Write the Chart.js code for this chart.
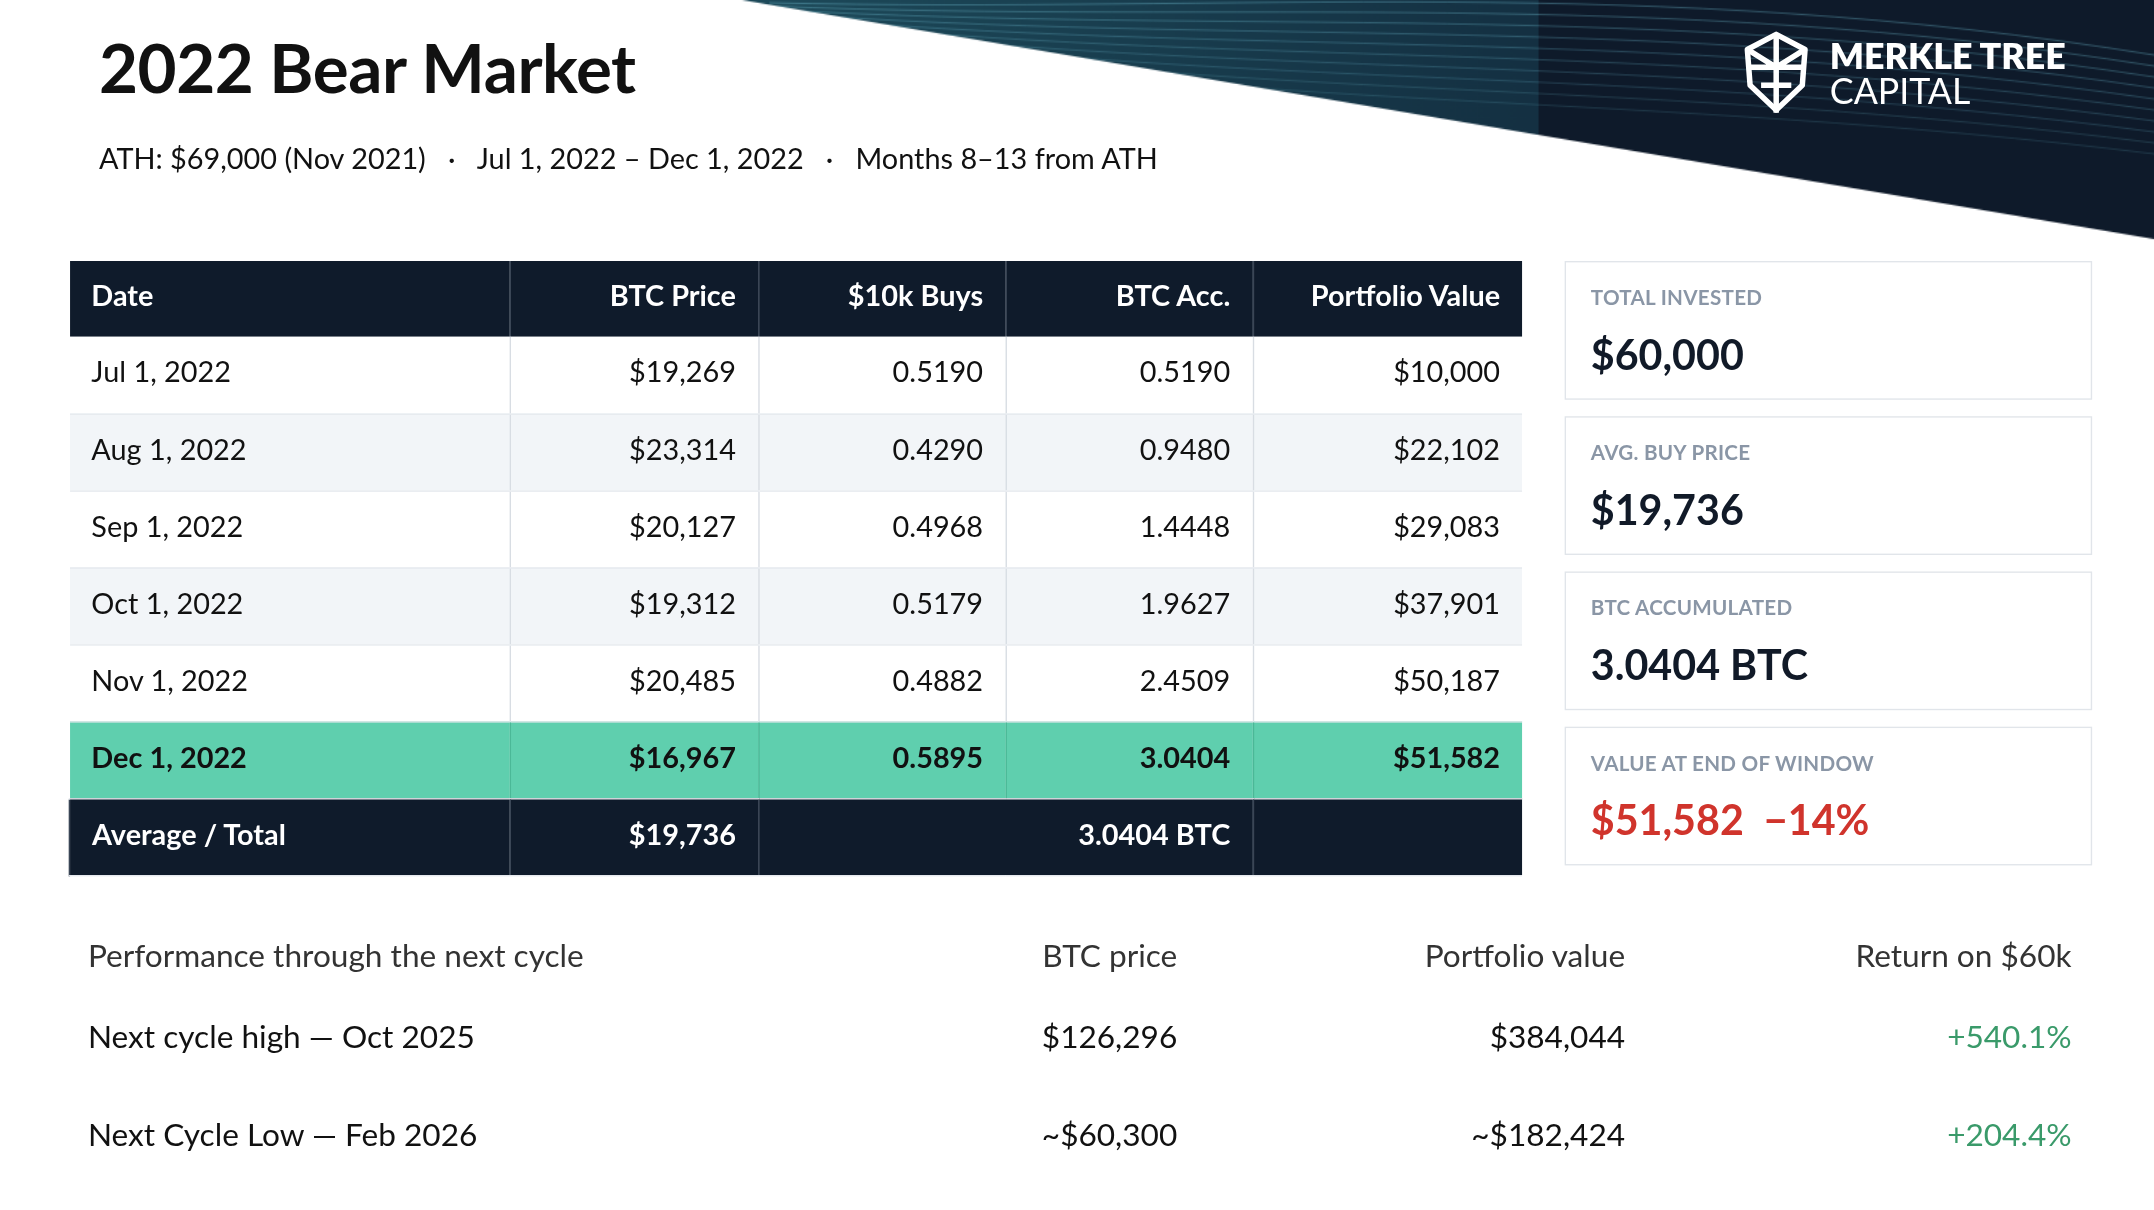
<!DOCTYPE html>
<html><head><meta charset="utf-8">
<script src="https://cdn.jsdelivr.net/npm/chart.js@4/dist/chart.umd.min.js"></script>
<style>
  html, body { margin: 0; padding: 0; background: #fff; overflow: hidden; }
  #page { position: absolute; left: 0; top: 0; width: 1568px; height: 881px; transform: scale(1.3737); transform-origin: 0 0; font-family: Lato, "Open Sans", sans-serif; color: #111; }
  #banner { position: absolute; left: 0; top: 0; width: 1568px; height: 181px; }
  h1 { position: absolute; left: 72px; top: 20px; margin: 0; font-size: 49px; font-weight: 700; letter-spacing: -0.3px; }
  .sub { position: absolute; left: 72px; top: 102px; font-size: 21px; }
  .logo { position: absolute; left: 1268px; top: 22px; color: #fff; display: flex; align-items: center; }
  .logo .t { margin-left: 14px; font-size: 26px; line-height: 26px; }
  table { position: absolute; left: 50px; top: 190px; width: 1058px; border-collapse: collapse; font-size: 21px; }
  td, th { height: 56px; padding: 0 16px 6px 16px; text-align: right; border-left: 1px solid #d8dde3; box-sizing: border-box; }
  th { background: #0f1b2b; color: #fff; font-weight: 700; border-left: 1px solid #3a4656; height: 55px; }
  td:first-child, th:first-child { text-align: left; border-left: none; }
  tr.alt td { background: #f2f5f8; }
  tbody td { border-bottom: 1px solid #e5e9ee; }
  tr.hl td { background: #5fcfae; font-weight: 700; border-left-color: #4bb897; }
  tr.tot td { background: #0f1b2b; color: #fff; font-weight: 700; border-left: 1px solid #3a4656; }
  .card { position: absolute; left: 1139px; width: 384px; height: 101px; border: 1px solid #e1e5ea; box-sizing: border-box; }
  .card .l { position: absolute; left: 18px; top: 16px; font-size: 15px; font-weight: 700; color: #8a96a6; letter-spacing: 0.2px; }
  .card .v { position: absolute; left: 18px; top: 48px; font-size: 30px; font-weight: 700; color: #111a28; }
  .perf { position: absolute; font-size: 23px; }
</style></head>
<body>
<div id="page">
  <canvas id="banner" width="1568" height="181"></canvas>
  <h1>2022 Bear Market</h1>
  <div class="sub">ATH: $69,000 (Nov 2021) &nbsp;&nbsp;·&nbsp;&nbsp; Jul 1, 2022 – Dec 1, 2022 &nbsp;&nbsp;·&nbsp;&nbsp; Months 8–13 from ATH</div>
  <div class="logo">
    <svg width="50" height="62" viewBox="0 0 50 62" fill="none" stroke="#fff" stroke-width="4" stroke-linejoin="round">
      <path d="M25 3 L46 14 L44 40 L25 58 L6 40 L4 14 Z"/><path d="M25 3 L25 60 M6 27 L44 27 M4 14 L25 27 L46 14 M14 40 L36 40"/>
    </svg>
    <div class="t"><b style="font-weight:800">MERKLE TREE</b><br>CAPITAL</div>
  </div>
  <table id="tbl"></table>
  <div id="cards"></div>
  <div id="perf"></div>
</div>
<script>
const headers = ['Date', 'BTC Price', '$10k Buys', 'BTC Acc.', 'Portfolio Value']
const dates = ['Jul 1, 2022', 'Aug 1, 2022', 'Sep 1, 2022', 'Oct 1, 2022', 'Nov 1, 2022', 'Dec 1, 2022']
const prices = ['$19,269', '$23,314', '$20,127', '$19,312', '$20,485', '$16,967']
const buys = ['0.5190', '0.4290', '0.4968', '0.5179', '0.4882', '0.5895']
const accumulated = ['0.5190', '0.9480', '1.4448', '1.9627', '2.4509', '3.0404']
const portfolio = ['$10,000', '$22,102', '$29,083', '$37,901', '$50,187', '$51,582']
const totals = ['Average / Total', '$19,736', '', '3.0404 BTC', '']
const cardLabels = ['TOTAL INVESTED', 'AVG. BUY PRICE', 'BTC ACCUMULATED', 'VALUE AT END OF WINDOW']
const cardValues = ['$60,000', '$19,736', '3.0404 BTC', '$51,582 &nbsp;−14%']
const perfHeaders = ['Performance through the next cycle', 'BTC price', 'Portfolio value', 'Return on $60k']
const perfNames = ['Next cycle high — Oct 2025', 'Next Cycle Low — Feb 2026']
const perfPrices = ['$126,296', '~$60,300']
const perfValues = ['$384,044', '~$182,424']
const perfReturns = ['+540.1%', '+204.4%']

let html = '<thead><tr>' + headers.map((h, i) => `<th style="width:${[321, 181, 180, 180, 196][i]}px">${h}</th>`).join('') + '</tr></thead><tbody>'
dates.forEach((d, i) => {
  const cls = i === dates.length - 1 ? 'hl' : (i % 2 ? 'alt' : '')
  html += `<tr class="${cls}"><td>${d}</td><td>${prices[i]}</td><td>${buys[i]}</td><td>${accumulated[i]}</td><td>${portfolio[i]}</td></tr>`
})
html += `<tr class="tot"><td>${totals[0]}</td><td>${totals[1]}</td><td colspan="2">${totals[3]}</td><td></td></tr></tbody>`
document.getElementById('tbl').innerHTML = html

document.getElementById('cards').innerHTML = cardLabels.map((l, i) =>
  `<div class="card" style="top:${190 + i * 113}px"><div class="l">${l}</div><div class="v" style="${i === 3 ? 'color:#d0342c' : ''}">${cardValues[i]}</div></div>`).join('')

const colX = [64, 857, 1183, 1508]
let p = ''
const row = (cells, y, style) => cells.forEach((c, i) => {
  p += i === 0 ? `<div class="perf" style="left:${colX[0]}px;top:${y}px;${style}">${c}</div>`
    : `<div class="perf" style="right:${1568 - colX[i]}px;top:${y}px;${style}${i === 3 && style === '' ? 'color:#3a9a6a;' : ''}">${c}</div>`
})
row(perfHeaders, 681, 'color:#333;')
perfNames.forEach((n, i) => row([n, perfPrices[i], perfValues[i], perfReturns[i]], 740 + i * 71, ''))
document.getElementById('perf').innerHTML = p

// banner: dark wedge with wave lines, drawn on a chart canvas
const waveOffsets = [0, 8, 16, 24, 32, 40, 48, 56, 64, 72]
new Chart(document.getElementById('banner'), {
  type: 'scatter',
  data: { datasets: [] },
  options: {
    responsive: false, animation: false, events: [],
    layout: { padding: 0 },
    scales: { x: { display: false, min: 0, max: 1568 }, y: { display: false, min: 0, max: 181 } },
    plugins: { legend: { display: false }, tooltip: { enabled: false } }
  },
  plugins: [{
    beforeDraw: (chart) => {
      const ctx = chart.ctx
      ctx.save()
      ctx.beginPath()
      ctx.moveTo(540, 0); ctx.lineTo(1568, 0); ctx.lineTo(1568, 174); ctx.closePath()
      ctx.clip()
      const g = ctx.createLinearGradient(540, 0, 1120, 0)
      g.addColorStop(0, '#1d4a5a'); g.addColorStop(1, '#143042')
      ctx.fillStyle = g
      ctx.fillRect(540, 0, 580, 181)
      ctx.fillStyle = '#0e1a2a'
      ctx.fillRect(1120, 0, 448, 181)
      ctx.lineWidth = 1
      waveOffsets.forEach((o, i) => {
        ctx.strokeStyle = `rgba(120,200,220,${0.35 - i * 0.02})`
        ctx.beginPath()
        ctx.moveTo(560, 2 + o * 0.3)
        ctx.bezierCurveTo(900, 10 + o, 1200, -20 + o * 1.2, 1568, 40 + o)
        ctx.stroke()
      })
      ctx.restore()
    }
  }]
})
</script>
</body></html>
